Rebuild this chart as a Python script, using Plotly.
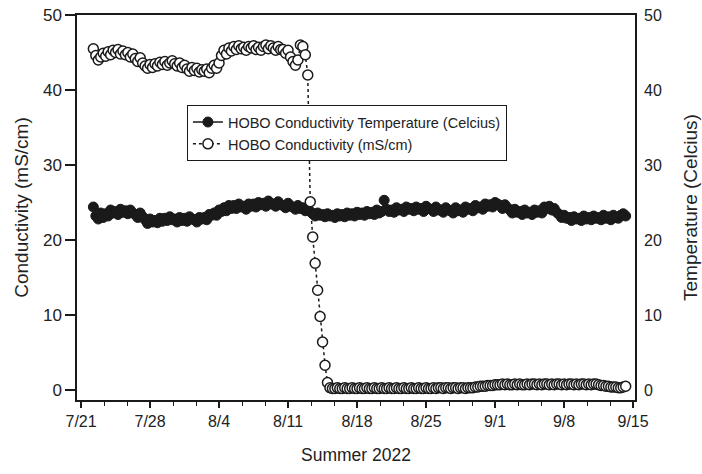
import pandas as pd
import plotly.graph_objects as go

# ---- data (6-hourly readings) ----
start_time = "2022-07-22 06:00"

conductivity = [
    45.5,
    44.6, 44.0, 44.4, 44.9,
    44.5, 45.1, 44.7, 45.3,
    45.0, 45.4, 44.8, 45.2,
    44.7, 45.0, 44.4, 44.8,
    44.2, 43.8, 44.3, 43.6,
    43.2, 42.9, 43.4, 43.0,
    43.5, 43.2, 43.7, 43.4,
    43.8, 43.3, 43.6, 43.9,
    43.5, 43.2, 43.6, 43.0,
    43.3, 42.8, 42.5, 43.0,
    42.6, 42.9, 42.4, 42.7,
    42.5, 42.8, 42.3, 42.9,
    43.3, 42.9, 43.6, 44.6,
    45.3, 44.8, 45.6, 45.2,
    45.8, 45.4, 45.9, 45.5,
    45.7, 45.3, 45.8, 45.6,
    45.9, 45.4, 45.7, 45.3,
    45.8, 46.0, 45.5, 45.9,
    45.6, 45.3, 45.8, 45.4,
    45.4, 44.9, 45.3, 44.4,
    43.8, 43.3, 44.0, 46.0,
    45.8, 44.7, 42.0, 25.1,
    20.4, 16.9, 13.3, 9.8,
    6.4, 3.3, 1.0, 0.3,
    0.2, 0.2, 0.3, 0.2,
    0.2, 0.3, 0.2, 0.2,
    0.3, 0.2, 0.2, 0.3,
    0.2, 0.2, 0.3, 0.2,
    0.2, 0.3, 0.2, 0.2,
    0.3, 0.2, 0.2, 0.3,
    0.2, 0.2, 0.3, 0.2,
    0.2, 0.3, 0.2, 0.2,
    0.3, 0.2, 0.2, 0.3,
    0.2, 0.2, 0.3, 0.2,
    0.2, 0.3, 0.2, 0.3,
    0.3, 0.2, 0.3, 0.3,
    0.2, 0.3, 0.3, 0.2,
    0.3, 0.3, 0.2, 0.3,
    0.3, 0.3, 0.4, 0.4,
    0.5, 0.5, 0.5, 0.6,
    0.6, 0.6, 0.7, 0.7,
    0.7, 0.8, 0.7, 0.8,
    0.7, 0.7, 0.8, 0.7,
    0.8, 0.7, 0.7, 0.8,
    0.7, 0.8, 0.8, 0.7,
    0.8, 0.7, 0.8, 0.8,
    0.7, 0.8, 0.7, 0.8,
    0.8, 0.7, 0.8, 0.7,
    0.8, 0.8, 0.7, 0.8,
    0.7, 0.8, 0.8, 0.7,
    0.8, 0.7, 0.8, 0.8,
    0.7, 0.6, 0.6, 0.5,
    0.5, 0.4, 0.4, 0.4,
    0.3, 0.3, 0.4, 0.5,
]

temperature = [
    24.4,
    23.2, 22.8, 23.6, 23.0,
    23.5, 23.2, 24.0, 23.6,
    23.8, 23.4, 24.1, 23.7,
    23.9, 23.5, 24.0, 23.6,
    23.4, 23.0, 23.6, 23.1,
    22.7, 22.2, 22.8, 22.4,
    22.6, 22.3, 22.9, 22.5,
    22.9, 22.6, 23.1, 22.7,
    22.8, 22.4, 23.0, 22.6,
    22.9, 22.5, 23.1, 22.8,
    22.7, 22.4, 23.0, 22.8,
    23.0, 22.7, 23.4, 23.3,
    23.6, 23.3, 24.0, 23.8,
    24.3, 23.9, 24.6, 24.2,
    24.6, 24.2, 24.8, 24.4,
    24.5, 24.1, 24.8, 24.5,
    24.8, 24.4, 25.0, 24.7,
    24.9, 24.5, 25.2, 24.8,
    24.8, 24.5, 25.1, 24.7,
    24.6, 24.3, 24.9, 24.5,
    24.4, 24.1, 24.6, 24.2,
    24.3, 23.9, 24.2, 23.8,
    23.5, 23.2, 23.6, 23.3,
    23.4, 23.1, 23.5, 23.2,
    23.3, 23.0, 23.5, 23.2,
    23.4, 23.1, 23.6, 23.3,
    23.5, 23.2, 23.7, 23.4,
    23.6, 23.3, 23.8, 23.5,
    23.7, 23.4, 24.0, 23.6,
    23.8, 25.3, 24.1, 23.8,
    24.0, 23.7, 24.3, 24.0,
    24.1, 23.8, 24.4, 24.1,
    24.2, 23.9, 24.4, 24.1,
    24.2, 23.8, 24.5, 24.2,
    24.1, 23.8, 24.4, 24.0,
    24.0, 23.7, 24.3, 24.0,
    23.9, 23.6, 24.3, 23.9,
    24.0, 23.7, 24.4, 24.1,
    24.2, 23.9, 24.6, 24.3,
    24.4, 24.1, 24.8, 24.5,
    24.7, 24.4, 25.0, 24.8,
    24.6, 24.2, 24.7, 24.3,
    24.0, 23.6, 24.1, 23.7,
    23.8, 23.4, 24.0, 23.6,
    23.7, 23.4, 24.0, 23.7,
    23.9, 23.6, 24.4, 24.2,
    24.5, 24.0, 24.2, 23.7,
    23.4, 23.0, 23.3, 22.9,
    23.0, 22.6, 23.1, 22.8,
    22.9, 22.6, 23.2, 22.8,
    23.0, 22.7, 23.2, 22.9,
    23.0, 22.7, 23.3, 22.9,
    23.1, 22.7, 23.3, 23.0,
    22.9, 23.3, 23.5, 23.2,
]

times = pd.date_range(start_time, periods=len(conductivity), freq="6h")

temp_name = "HOBO Conductivity Temperature (Celcius)"
cond_name = "HOBO Conductivity (mS/cm)"
x_title = "Summer 2022"
y_title = "Conductivity (mS/cm)"
y2_title = "Temperature (Celcius)"

FONT = "Liberation Sans, Arial, sans-serif"
INK = "#1a1a1a"
DAY_MS = 86400000

fig = go.Figure()
fig.add_trace(go.Scatter(
    x=times, y=temperature, yaxis="y", name=temp_name,
    mode="lines+markers",
    line=dict(color=INK, width=1.5),
    marker=dict(color=INK, size=10, line=dict(color=INK, width=1)),
))
fig.add_trace(go.Scatter(
    x=times, y=conductivity, yaxis="y2", name=cond_name,
    mode="lines+markers",
    line=dict(color=INK, width=1.5, dash="dot"),
    marker=dict(color="white", size=10, line=dict(color=INK, width=1.5)),
))

yr = [-1.333, 50]
fig.update_layout(
    template="none",
    width=702, height=474,
    margin=dict(l=77, r=67, t=15, b=74, autoexpand=False),
    paper_bgcolor="white", plot_bgcolor="white",
    font=dict(family=FONT, size=16, color="#222"),
    showlegend=True,
    hovermode=False,
    legend=dict(
        x=0.197, y=0.766, xanchor="left", yanchor="top",
        bgcolor="white", bordercolor=INK, borderwidth=1,
        font=dict(size=14.5, color="#222"), tracegroupgap=0,
    ),
    xaxis=dict(
        type="date", automargin=False,
        range=["2022-07-20 14:10", "2022-09-15 04:40"],
        tick0="2022-07-21", dtick=7 * DAY_MS, tickformat="%-m/%-d",
        ticks="outside", ticklen=6, tickwidth=1.5, tickcolor=INK,
        showline=True, linecolor=INK, linewidth=1.5, mirror=True,
        showgrid=False, zeroline=False,
        minor=dict(tick0="2022-07-21", dtick=7 * DAY_MS / 3, ticks="outside",
                   ticklen=4, tickwidth=1, tickcolor=INK, showgrid=False),
        tickfont=dict(size=16),
        title=dict(text=x_title, font=dict(size=17.5), standoff=20),
    ),
    yaxis=dict(
        range=yr, tick0=0, dtick=10, automargin=False,
        ticks="outside", ticklen=10, tickwidth=1.5, tickcolor=INK,
        showline=True, linecolor=INK, linewidth=1.5, mirror=True,
        showgrid=False, zeroline=False,
        tickfont=dict(size=17),
        title=dict(text=y_title, font=dict(size=19), standoff=9),
    ),
    yaxis2=dict(
        range=yr, tick0=0, dtick=10, overlaying="y", side="right",
        automargin=False,
        ticks="", showline=False, showgrid=False, zeroline=False,
        tickfont=dict(size=16), ticklabelstandoff=8,
        title=dict(text=y2_title, font=dict(size=19), standoff=22),
    ),
)

# remove the page's default body margin so the figure fills the window exactly
fig.write_html(
    "out.html",
    config={"displayModeBar": False},
    post_script="document.body.style.margin='0px';",
)
